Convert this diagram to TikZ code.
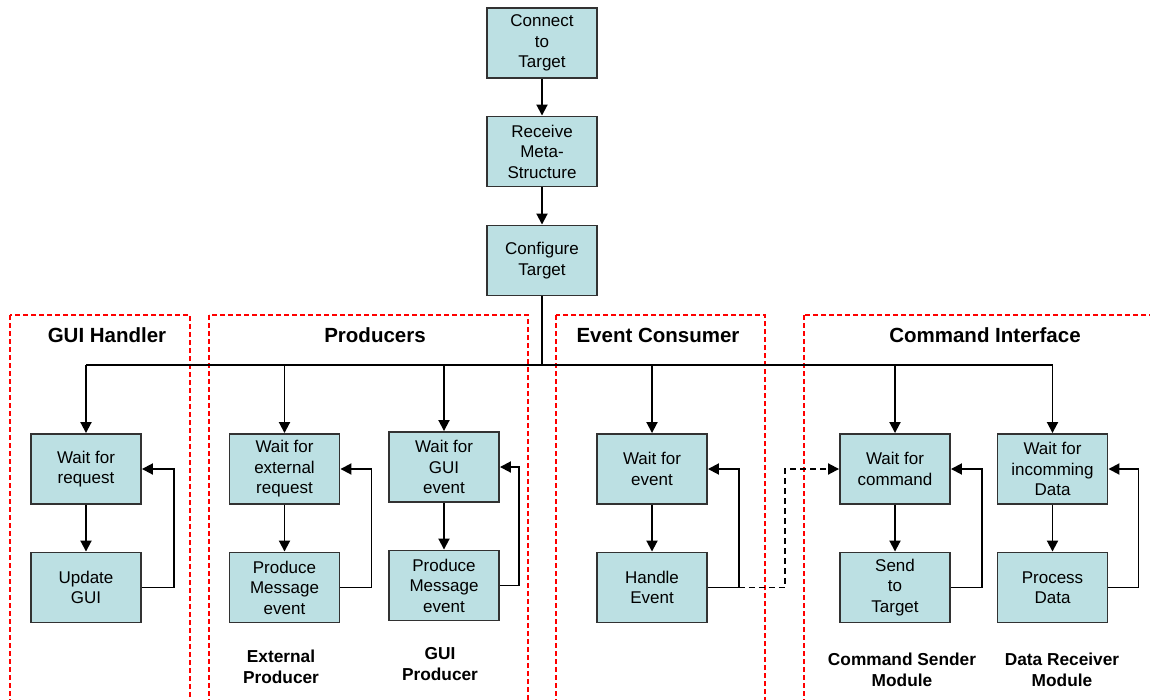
\documentclass[tikz,border=0pt]{standalone}
\usepackage{fontspec}
\setmainfont{Liberation Sans}
\usetikzlibrary{arrows.meta}
\definecolor{boxfill}{RGB}{188,224,227}
\definecolor{boxline}{RGB}{50,50,50}
\begin{document}
\begin{tikzpicture}[x=1pt,y=-1pt,
  stepbox/.style={draw=boxline,line width=1.9pt,fill=boxfill,minimum width=110pt,
    minimum height=70pt,inner sep=0pt,align=center,
    font=\fontsize{17}{20.5}\selectfont},
  grp/.style={draw=red,line width=1.7pt,dash pattern=on 5pt off 3pt},
  grptitle/.style={font=\fontsize{20.5}{23}\selectfont\bfseries},
  modlabel/.style={align=center,font=\fontsize{17.3}{21}\selectfont\bfseries},
  wire/.style={draw=black,line width=1.9pt},
  arr/.style={wire,-{Triangle[length=11pt,width=11pt]}}]
\useasboundingbox (0,0) rectangle (1150,700);
\clip (0,0) rectangle (1150,700);
\fill[white] (0,0) rectangle (1150,700);

% group frames
\draw[grp] (10,315) rectangle (190,720);
\draw[grp] (209,315) rectangle (528,720);
\draw[grp] (556,315) rectangle (765,720);
\draw[grp] (804,315) rectangle (1170,720);
\node[grptitle] (tgui) at (107,335) {GUI Handler};
\node[grptitle] (tprod) at (375,335) {Producers};
\node[grptitle] (tev) at (658,335) {Event Consumer};
\node[grptitle] (tcmd) at (985,335) {Command Interface};

% start-up sequence
\node[stepbox] (conn) at (542,43) {Connect\\to\\Target};
\node[stepbox] (recv) at (542,151.5) {Receive\\Meta-\\Structure};
\node[stepbox] (conf) at (542,260.5) {Configure\\Target};
\draw[arr] (conn.south) -- (recv.north);
\draw[arr] (recv.south) -- (conf.north);

% worker loops
\node[stepbox] (w1) at (86,469) {Wait for\\request};
\node[stepbox] (u1) at (86,587.5) {Update\\GUI};
\node[stepbox] (w2) at (284.5,469) {Wait for\\external\\request};
\node[stepbox] (u2) at (284.5,587.5) {Produce\\Message\\event};
\node[stepbox] (w3) at (444,467) {Wait for\\GUI\\event};
\node[stepbox] (u3) at (444,585.5) {Produce\\Message\\event};
\node[stepbox] (w4) at (652,469) {Wait for\\event};
\node[stepbox] (u4) at (652,587.5) {Handle\\Event};
\node[stepbox] (w5) at (895,469) {Wait for\\command};
\node[stepbox] (u5) at (895,587.5) {Send\\to\\Target};
\node[stepbox] (w6) at (1052.5,469) {Wait for\\incomming\\Data};
\node[stepbox] (u6) at (1052.5,587.5) {Process\\Data};

% distribution bus
\coordinate (busL) at (86,365);
\coordinate (busR) at (1052.5,365);
\draw[wire] (conf.south) -- (conf.south |- busL);
\draw[wire] (busL) -- (busR);
\foreach \n in {w1,w2,w3,w4,w5,w6}
  \draw[arr] (\n.north |- busL) -- (\n.north);

% step arrows and loop-backs
\foreach \w/\u in {w1/u1,w2/u2,w3/u3,w4/u4,w5/u5,w6/u6}
  \draw[arr] (\w.south) -- (\u.north);
\draw[arr] (u1.east) -- ++(32,0) |- (w1.east);
\draw[arr] (u2.east) -- ++(31,0) |- (w2.east);
\draw[arr] (u3.east) -- ++(19,0) |- (w3.east);
\draw[arr] (u4.east) -- ++(31,0) coordinate (hloop) |- (w4.east);
\draw[arr] (u5.east) -- ++(31,0) |- (w5.east);
\draw[arr] (u6.east) -- ++(30,0) |- (w6.east);

% event consumer hands commands to the sender
\draw[arr,dash pattern=on 6pt off 4pt] (hloop) -- ++(46,0) |- (w5.west);

% module captions
\node[modlabel] (lext) at (281,666.5) {External\\Producer};
\node[modlabel] (lgui) at (440,664.5) {GUI\\Producer};
\node[modlabel] (lsnd) at (902,669.5) {Command Sender\\Module};
\node[modlabel] (lrcv) at (1062,669.5) {Data Receiver\\Module};
\end{tikzpicture}
\end{document}
